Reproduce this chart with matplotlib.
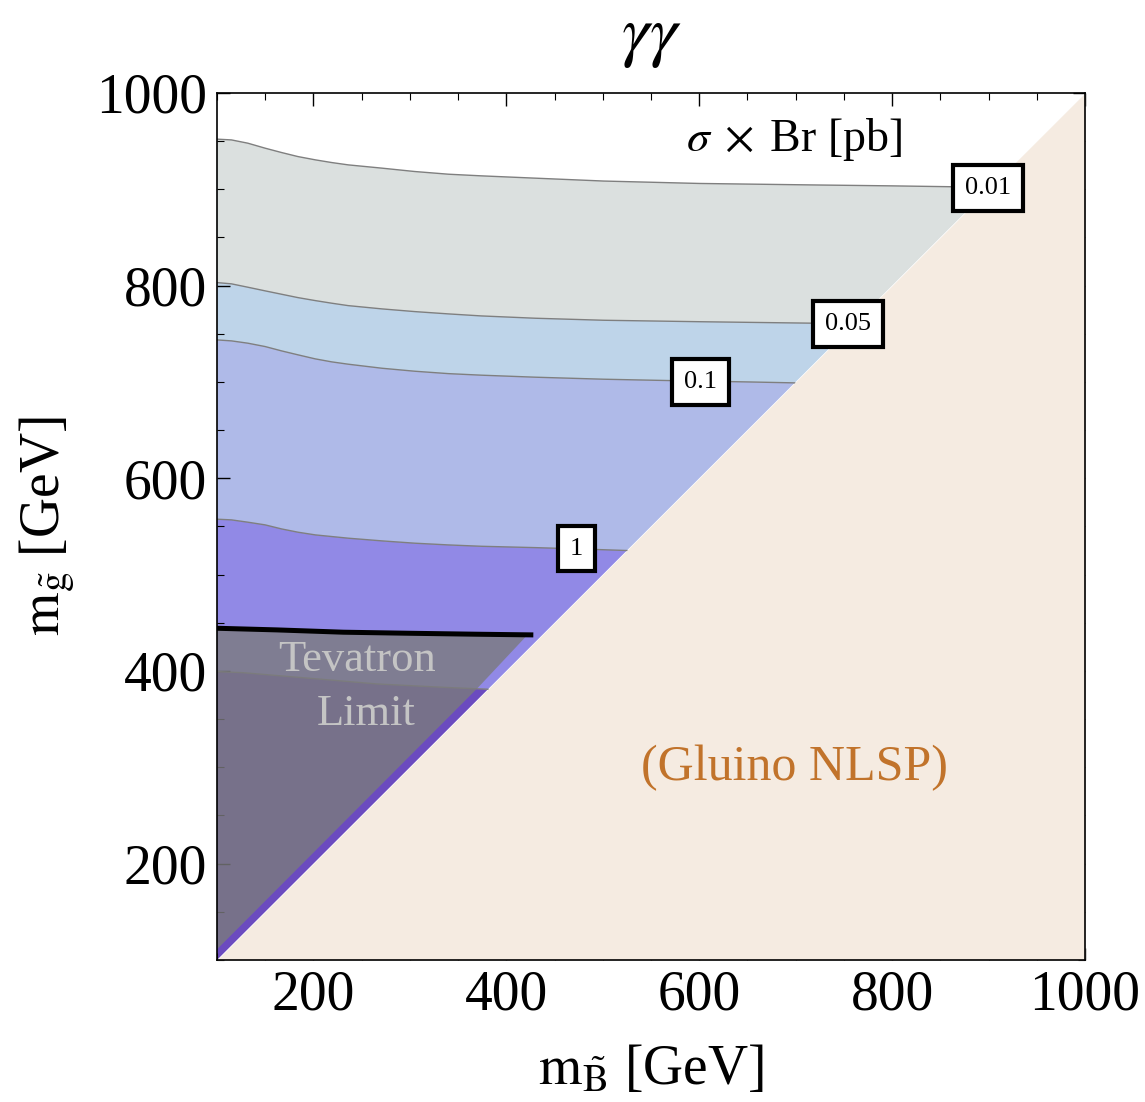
import numpy as np
import matplotlib
matplotlib.use("Agg")
import matplotlib.pyplot as plt
from matplotlib.ticker import MultipleLocator

plt.rcParams['font.family'] = ['Liberation Serif', 'DejaVu Serif']
plt.rcParams['mathtext.fontset'] = 'stix'

# contour curves of sigma x Br [pb] (m_B, m_g in GeV)
c001_x = [100, 115, 132, 150, 167, 184, 202, 219, 236, 271, 305, 340, 374, 430, 501, 600, 715, 800, 902]
c001_y = [952, 951.2, 947.8, 942.6, 938.1, 933.9, 930.5, 927.7, 925.3, 921.9, 918.4, 915.6, 913.9,
          911.5, 908.5, 906, 904.5, 903.5, 902]

c005_x = [100, 115, 132, 150, 167, 184, 202, 219, 236, 271, 305, 340, 374, 430, 501, 600, 715, 760]
c005_y = [803.1, 801.8, 798.3, 794.5, 791.0, 787.5, 784.4, 781.7, 779.2, 775.8, 773.0, 770.6, 768.5,
          766.1, 764, 762.5, 761, 760]

c01_x = [100, 115, 132, 150, 167, 184, 202, 219, 236, 271, 305, 340, 374, 430, 501, 569, 650, 699]
c01_y = [743.6, 742.6, 740.2, 736.7, 732.2, 728.1, 723.9, 720.8, 718.4, 714.2, 711.1, 708.6, 707.0,
         704.9, 702.8, 701.4, 700, 699]

c1_x = [100, 115, 132, 150, 167, 184, 202, 236, 271, 305, 340, 374, 430, 480, 525]
c1_y = [557.5, 556.8, 554.4, 551.6, 547.4, 544.0, 541.2, 537.8, 535.0, 532.6, 530.8, 529.4, 528.0,
        526.5, 525]

c5_x = [100, 127, 196, 266, 335, 381]
c5_y = [399.3, 398.2, 392.4, 386.5, 383, 381]

# Tevatron limit line and edge of the excluded region
tev_x = [100, 162, 231, 300, 370, 428]
tev_y = [444.3, 442.6, 440.2, 439.1, 438.1, 437.4]
tev_edge_x = [422, 370, 100]
tev_edge_y = [437.5, 382, 111]

diag = [100, 1000]

level_labels = ['0.01', '0.05', '0.1', '1']
band_colors = ['#DBE0DF', '#BED4E9', '#AFBAE8', '#9189E6', '#6B4BBF']
beige = '#F5EBE1'

fig = plt.figure(figsize=(11.45, 11.02), dpi=100)
ax = fig.add_axes([0.1895, 0.1289, 0.7581, 0.7868])
ax.set_xlim(100, 1000)
ax.set_ylim(100, 1000)

curves = [(c001_x, c001_y), (c005_x, c005_y), (c01_x, c01_y), (c1_x, c1_y), (c5_x, c5_y),
          ([diag[0]], [diag[0]])]

# bands between consecutive contours, closed along the diagonal
for i, col in enumerate(band_colors):
    ux, uy = curves[i]
    lx, ly = curves[i + 1]
    ax.fill(np.r_[lx, ux[::-1]], np.r_[ly, uy[::-1]], color=col, lw=0, zorder=1)

for cx, cy in curves[:-1]:
    ax.plot(cx, cy, color='#7F7F7F', lw=1.0, zorder=2)

# gluino NLSP triangle
ax.fill_between(diag, diag[0], diag, color=beige, lw=0, zorder=3)

# Tevatron excluded region
ax.fill(np.r_[tev_x[:-1], tev_edge_x], np.r_[tev_y[:-1], tev_edge_y],
        color='#7B7B7D', alpha=0.8, lw=0, zorder=4)
ax.plot(tev_x, tev_y, color='black', lw=3.6, zorder=5, solid_capstyle='butt')

# contour labels
label_pos = [(899, 901), (754, 760), (601, 700), (473, 527)]
for txt, (lx, ly) in zip(level_labels, label_pos):
    ax.text(lx, ly, txt, fontsize=19, ha='center', va='center', zorder=6,
            bbox=dict(boxstyle='square,pad=0.45', fc='white', ec='black', lw=3))

ax.text(698, 952, r'$\sigma\;\times\;$Br [pb]', fontsize=33, ha='center', va='center', zorder=6)
ax.text(245, 411, 'Tevatron', fontsize=32, color='#C4C4C4', ha='center', va='center', zorder=6)
ax.text(255, 355, 'Limit', fontsize=32, color='#C4C4C4', ha='center', va='center', zorder=6)
ax.text(699, 299, '(Gluino NLSP)', fontsize=36, color='#C1732B', ha='center', va='center', zorder=6)

ax.xaxis.set_major_locator(MultipleLocator(200))
ax.yaxis.set_major_locator(MultipleLocator(200))
ax.xaxis.set_minor_locator(MultipleLocator(50))
ax.yaxis.set_minor_locator(MultipleLocator(50))
ax.tick_params(which='both', direction='in', top=True, right=True, labelsize=40, pad=7)
ax.tick_params(which='major', length=9, width=1.0)
ax.tick_params(which='minor', length=5, width=0.8)
for sp in ax.spines.values():
    sp.set_linewidth(1.2)
    sp.set_zorder(10)

ax.set_xlabel(r'$\mathrm{m}_{\tilde{\mathrm{B}}}$ [GeV]', fontsize=40, labelpad=16)
ax.set_ylabel(r'$\mathrm{m}_{\tilde{\mathrm{g}}}$ [GeV]', fontsize=40, labelpad=14)
ax.set_title(r'$\gamma\gamma$', fontsize=50, pad=28)

fig.savefig('out.png', dpi=100)
